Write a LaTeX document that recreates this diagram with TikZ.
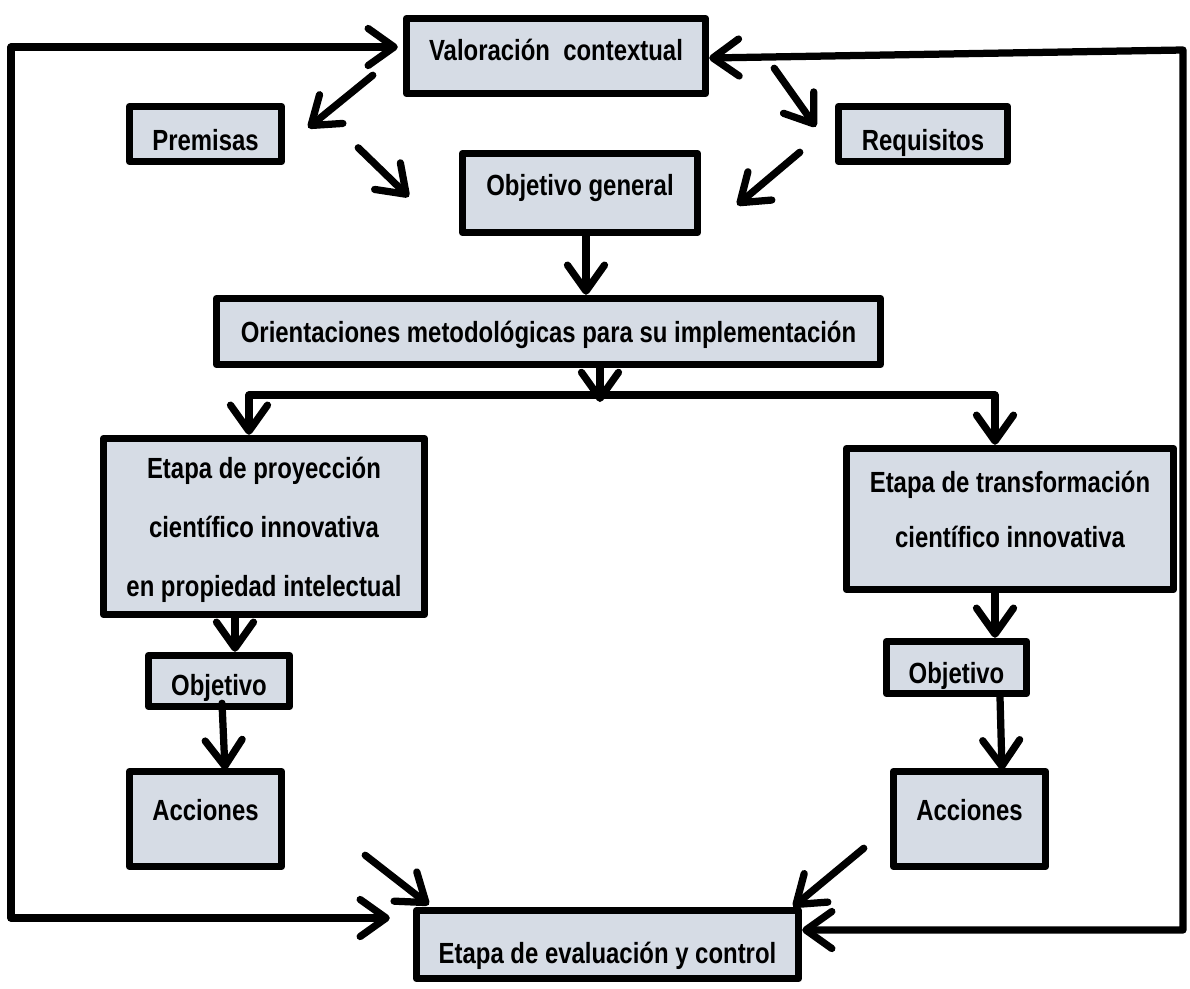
\documentclass[tikz,border=0pt]{standalone}
\usepackage{fontspec}
\setmainfont{Liberation Sans}[FakeStretch=0.82]
\usetikzlibrary{arrows.meta}
\definecolor{boxfill}{HTML}{D6DCE5}
\tikzset{
  box/.style={draw, line width=0.15cm, line join=round, fill=boxfill, align=center,
    inner sep=0pt, font=\bfseries\fontsize{16.6}{32}\selectfont},
  tx/.style 2 args={text height=#1, text depth=#2},
  flow/.style={line width=0.145cm, line cap=round, line join=round, ->},
  both/.style={<->},
  >={Straight Barb[length=0.52cm, width=0.74cm, round]}
}
\begin{document}
\begin{tikzpicture}[x=0.02cm, y=-0.02cm]
  \useasboundingbox (0,0) rectangle (1190,988);

  % boxes
  \node[box, tx={0.42cm}{0.24cm}, minimum width=5.98cm, minimum height=1.5cm] (val) at (556,56) {Valoración\ \ contextual};
  \node[box, tx={0.66cm}{0cm}, minimum width=3.04cm, minimum height=1.1cm] (prem) at (205.5,134) {Premisas};
  \node[box, tx={0.66cm}{0cm}, minimum width=3.38cm, minimum height=1.1cm] (req) at (923,134) {Requisitos};
  \node[box, tx={0.42cm}{0.32cm}, minimum width=4.7cm, minimum height=1.58cm] (obj) at (580,193) {Objetivo general};
  \node[box, tx={0.42cm}{0cm}, minimum width=13.28cm, minimum height=1.32cm] (ori) at (548.5,331.5) {Orientaciones metodológicas para su implementación};
  \node[box, font=\bfseries\fontsize{16.6}{33.5}\selectfont, text depth=0pt, minimum width=6.42cm, minimum height=3.52cm] (proj) at (264,526.5)
    {Etapa de proyección\\científico innovativa\\en propiedad intelectual};
  \node[box, font=\bfseries\fontsize{16.6}{31}\selectfont, text depth=0.38cm, minimum width=6.54cm, minimum height=2.82cm] (trans) at (1010,519)
    {Etapa de transformación\\científico innovativa};
  \node[box, tx={0.58cm}{0cm}, minimum width=2.82cm, minimum height=1.02cm] (objL) at (219,681) {Objetivo};
  \node[box, tx={0.62cm}{0cm}, minimum width=2.8cm, minimum height=1.04cm] (objR) at (956.5,667.5) {Objetivo};
  \node[box, tx={0.42cm}{0.36cm}, minimum width=3.04cm, minimum height=1.9cm] (accL) at (205.5,819) {Acciones};
  \node[box, tx={0.42cm}{0.36cm}, minimum width=3.04cm, minimum height=1.9cm] (accR) at (969.5,819) {Acciones};
  \node[box, tx={0.76cm}{0cm}, minimum width=7.64cm, minimum height=1.36cm] (eval) at (607.5,944.5) {Etapa de evaluación y control};

  \coordinate (lt) at (11,47);
  \coordinate (lb) at (11,918);
  \coordinate (rt) at (1183,50);
  \coordinate (rb) at (1183,930);
  \coordinate (bl) at (249,395);
  \coordinate (br) at (995,395);

  % top part
  \draw[flow] ([shift={(-30,-22)}]val.south west) -- ([shift={(23,25)}]prem.north east);
  \draw[flow] ([shift={(73,45)}]prem.north east) -- ([shift={(-50,47)}]obj.north west);
  \draw[flow] ([shift={(65,-29)}]val.south east) -- ([shift={(-19,24)}]req.north west);
  \draw[flow] ([shift={(-35,-13)}]req.south west) -- ([shift={(36,12)}]obj.east);
  \draw[flow] ([xshift=0.12cm]obj.south) -- ([xshift=0.12cm]obj.south |- ori.north);

  % split into the two stages
  \draw[flow] ([xshift=1.03cm]ori.south) -- ([xshift=1.03cm, yshift=-0.14cm]ori.south |- bl);
  \draw[flow, both] (bl |- proj.north) -- (bl) -- (br) -- (br |- trans.north);

  % left branch
  \draw[flow] ([xshift=0.32cm]objL.north |- proj.south) -- ([xshift=0.32cm]objL.north);
  \draw[flow] ([shift={(3,-7)}]objL.south) -- ([shift={(19.5,2)}]accL.north);
  \draw[flow] ([shift={(80,-15)}]accL.south east) -- ([shift={(16,-2)}]eval.north west);

  % right branch
  \draw[flow] ([xshift=-0.3cm]trans.south) -- ([xshift=-0.3cm]trans.south |- objR.north);
  \draw[flow] ([shift={(43.5,0)}]objR.south) -- ([shift={(32.5,2)}]accR.north);
  \draw[flow] ([shift={(-26,-22)}]accR.south west) -- ([shift={(-9,0)}]eval.north east);

  % feedback loops
  \draw[flow, both, shorten <=0.1cm, shorten >=0.46cm] (lt -| val.west) -- (lt) -- (lb) -- (lb -| eval.west);
  \draw[flow, both] ([yshift=-0.04cm]val.east) -- (rt) -- (rb) -- (rb -| eval.east);
\end{tikzpicture}
\end{document}
